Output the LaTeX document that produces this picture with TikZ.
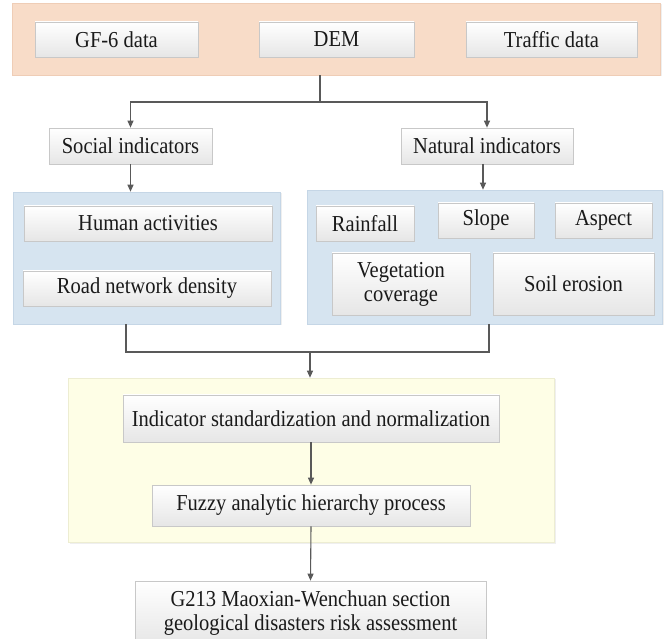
\documentclass[tikz,border=0pt]{standalone}
\usepackage{fontspec}
\setmainfont{Liberation Serif}[FakeStretch=0.9]
\usetikzlibrary{arrows.meta,shadows}
\definecolor{peach}{HTML}{F8DCC8}
\definecolor{peachedge}{HTML}{EFCDB6}
\definecolor{lblue}{HTML}{D6E4F0}
\definecolor{lblueedge}{HTML}{C5D6E6}
\definecolor{lyellow}{HTML}{FEFEE6}
\definecolor{lyellowedge}{HTML}{EDEDD2}
\definecolor{boxedge}{HTML}{C8C8C8}
\definecolor{boxbot}{HTML}{E6E6E6}
\definecolor{linec}{HTML}{595959}
\definecolor{textc}{HTML}{1A1A1A}
\tikzset{
  box/.style={draw=boxedge, line width=0.7pt, top color=white, bottom color=boxbot,
    minimum height=35pt, inner sep=0pt, align=center, text=textc,
    drop shadow={shadow xshift=1pt, shadow yshift=-1pt, opacity=0.18}},
  panelbox/.style={inner sep=0pt, line width=0.6pt,
    drop shadow={shadow xshift=1.5pt, shadow yshift=-1.5pt, opacity=0.12}},
  conn/.style={draw=linec, line width=1.1pt},
  arr/.style={conn, -{Triangle[width=6pt,length=7pt]}},
}
\begin{document}
\begin{tikzpicture}[x=1pt,y=-1pt,font=\fontsize{22.8}{24}\selectfont]
\clip (0,0) rectangle (665,639);
\fill[white] (0,0) rectangle (665,639);
% panels
\node[panelbox, fill=peach, draw=peachedge, minimum width=648pt, minimum height=72pt] (top) at (336,39) {};
\node[panelbox, fill=lblue, draw=lblueedge, minimum width=267pt, minimum height=132pt] (lpanel) at (146.5,258) {};
\node[panelbox, fill=lblue, draw=lblueedge, minimum width=355pt, minimum height=134pt] (rpanel) at (484.5,257) {};
\node[panelbox, fill=lyellow, draw=lyellowedge, minimum width=486pt, minimum height=164pt] (ypanel) at (311,460) {};
% top boxes
\node[box, minimum width=163pt] (gf) at (116.5,39.5) {GF-6 data};
\node[box, minimum width=155pt] (dem) at (336.5,39.5) {DEM};
\node[box, minimum width=171pt] (traffic) at (551.5,39.5) {Traffic data};
% indicators
\node[box, minimum width=163pt, minimum height=36pt] (social) at (130.5,146) {Social indicators};
\node[box, minimum width=172pt, minimum height=36pt] (natural) at (487,146) {Natural indicators};
% social panel
\node[box, minimum width=248pt] (human) at (148,223.5) {Human activities};
\node[box, minimum width=248pt] (road) at (147,288.5) {Road network density};
% natural panel
\node[box, minimum width=98pt] (rain) at (365,223.5) {Rainfall};
\node[box, minimum width=96pt] (slope) at (486,220.5) {Slope};
\node[box, minimum width=97pt] (aspect) at (603.5,220.5) {Aspect};
\node[box, minimum width=138pt, minimum height=62pt] (veg) at (401,284) {Vegetation\\coverage};
\node[box, minimum width=161pt, minimum height=62pt] (soil) at (573.5,284) {Soil erosion};
% process
\node[box, minimum width=376pt, minimum height=47pt] (ind) at (311,418.5) {Indicator standardization and normalization};
\node[box, minimum width=318pt, minimum height=41pt] (fuzzy) at (311,505.5) {Fuzzy analytic hierarchy process};
\node[box, minimum width=351pt, minimum height=64pt] (final) at (310.5,613) {G213 Maoxian-Wenchuan section\\geological disasters risk assessment};
% connectors
\coordinate (split) at (320,102);
\draw[conn] (top.south -| split) -- (split);
\draw[arr] (split) -| (social.north);
\draw[arr] (split) -| (natural.north);
\draw[arr] (social.south) -- (lpanel.north -| social.south);
\coordinate (nat) at (483,164);
\draw[arr] (nat) -- (rpanel.north -| nat);
\coordinate (ml) at (126,352);
\coordinate (mr) at (489,352);
\coordinate (merge) at (310,352);
\draw[conn] (lpanel.south -| ml) -- (ml) -- (mr) -- (rpanel.south -| mr);
\draw[arr] (merge) -- (ypanel.north -| merge);
\draw[arr] (ind.south) -- (fuzzy.north);
\draw[arr] (fuzzy.south) -- (final.north);
\end{tikzpicture}
\end{document}
